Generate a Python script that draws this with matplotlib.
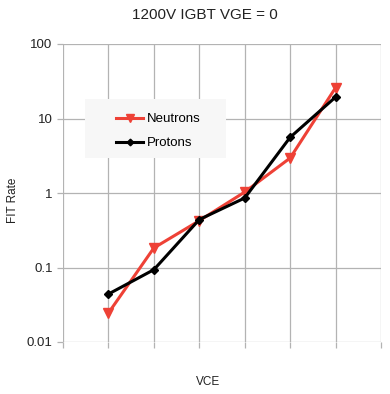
import matplotlib
matplotlib.use("Agg")
import matplotlib.pyplot as plt
from matplotlib.patches import Rectangle

plt.rcParams['font.family'] = ['Liberation Sans', 'DejaVu Sans']

x_pos = [1, 2, 3, 4, 5, 6]
neutrons = [0.0245, 0.183, 0.425, 1.03, 2.95, 25.9]
protons = [0.044, 0.0935, 0.44, 0.857, 5.59, 19.4]
y_ticks = [0.01, 0.1, 1, 10, 100]
y_tick_labels = ["0.01", "0.1", "1", "10", "100"]

red = "#EE4136"
grid_c = "#b3b3b3"
W, H = 390, 394

fig = plt.figure(figsize=(3.9, 3.94), dpi=100)
ax = fig.add_axes([63/W, 1 - 342/H, (381-63)/W, (342-44)/H])

ax.plot(x_pos, neutrons, color=red, lw=2.2, marker="v", ms=7, zorder=3, label="Neutrons")
ax.plot(x_pos, protons, color="black", lw=2.2, marker="D", ms=4.5, zorder=4, label="Protons")

ax.set_yscale("log")
ax.set_ylim(0.01, 100)
ax.set_xlim(0, 7)
ax.set_yticks(y_ticks)
ax.set_yticklabels(y_tick_labels)
ax.minorticks_off()
ax.set_xticks(range(0, 8))
ax.set_xticklabels([])
ax.grid(True, color=grid_c, lw=0.9)
ax.set_axisbelow(True)
for s in ax.spines.values():
    s.set_visible(False)
ax.tick_params(axis="both", colors=grid_c, length=4, width=0.9, labelcolor="#222222", labelsize=9.5)

fig.text(13/W, 1 - 200/H, "FIT Rate", rotation=90, ha="center", va="center", fontsize=8.5, color="#222222")
fig.text(208/W, 1 - 382/H, "VCE", ha="center", va="center", fontsize=8.5, color="#222222")
fig.text(205/W, 1 - 15/H, "1200V IGBT VGE = 0", ha="center", va="center", fontsize=11, color="#222222")

ax.add_patch(Rectangle((85/W, 1 - 158/H), (226-85)/W, (158-99)/H,
                       transform=fig.transFigure, facecolor="#f7f7f7", edgecolor="none", zorder=2))

leg = ax.legend(loc="upper left", bbox_to_anchor=(116/W, 1 - 113/H), bbox_transform=fig.transFigure,
                frameon=False, fontsize=9.5, handlelength=2.05, borderpad=0,
                labelspacing=0.9, handletextpad=0.3, borderaxespad=0, markerscale=0.75)
leg.set_zorder(5)

fig.savefig("out.png", dpi=100)
